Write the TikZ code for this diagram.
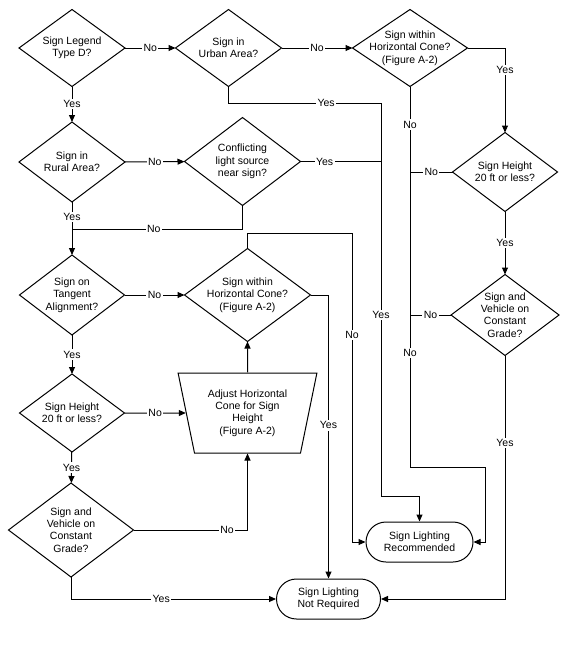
\documentclass[tikz,border=0pt]{standalone}
\usepackage{fontspec}
\setmainfont{Liberation Sans}
\usetikzlibrary{calc,positioning,arrows.meta,shapes}

\begin{document}
\begin{tikzpicture}[x=1pt,y=-1pt,line width=1pt,
    >={Triangle[length=7pt,width=6pt]},
    font=\fontsize{10.5}{12.3}\selectfont,
    question/.style 2 args={rectangle,inner sep=0pt,align=center,minimum width=#1,minimum height=#2},
    finish/.style={draw,rectangle,rounded corners=20pt,align=center,minimum width=#1,minimum height=40pt},
    lbl/.style={fill=white,inner sep=1.5pt}]
  \useasboundingbox (0,0) rectangle (570,645);
  % questions
  \node[question={105pt}{76pt}] (legend) at (72,48) {Sign Legend\\Type D?};
  \node[question={105pt}{76pt}] (urban) at (228.5,48) {Sign in\\Urban Area?};
  \node[question={114pt}{76pt}] (conea) at (410,48) {Sign within\\Horizontal Cone?\\(Figure A-2)};
  \node[question={105pt}{79pt}] (rural) at (72,162) {Sign in\\Rural Area?};
  \node[question={115pt}{87pt}] (conflict) at (242.5,161.5) {Conflicting\\light source\\near sign?};
  \node[question={104pt}{78pt}] (heightr) at (505,172) {Sign Height\\20 ft or less?};
  \node[question={104pt}{79pt}] (tangent) at (72,295) {Sign on\\Tangent\\Alignment?};
  \node[question={125pt}{92pt}] (coneb) at (247.5,295) {Sign within\\Horizontal Cone?\\(Figure A-2)};
  \node[question={107pt}{80pt}] (graderi) at (505,315) {Sign and\\Vehicle on\\Constant\\Grade?};
  \node[question={104pt}{77pt}] (heightl) at (72,413) {Sign Height\\20 ft or less?};
  \node[question={124pt}{93pt}] (gradele) at (71,530) {Sign and\\Vehicle on\\Constant\\Grade?};
  \foreach \n in {legend,urban,conea,rural,conflict,heightr,tangent,coneb,graderi,heightl,gradele}
    \draw (\n.north) -- (\n.east) -- (\n.south) -- (\n.west) -- cycle;
  % adjust box and ends
  \node[draw,trapezium,trapezium stretches=true,shape border rotate=180,
        trapezium left angle=76,trapezium right angle=76,
        minimum width=139pt,minimum height=80pt,align=center] (adjust) at (247.5,413)
        {Adjust Horizontal\\Cone for Sign\\Height\\(Figure A-2)};
  \node[finish=107pt] (recom) at (419.5,542) {Sign Lighting\\Recommended};
  \node[finish=104pt] (noreq) at (328.5,599) {Sign Lighting\\Not Required};
  % bends
  \coordinate (ybus) at (381,103);
  \coordinate (ylow) at (381,496);
  \coordinate (nlow) at (410,467);
  \coordinate (nright) at (485,467);
  \coordinate (merge) at (72,229);
  \coordinate (nback) at (352,233);
  % connectors
  \draw[->] (legend) -- node[lbl]{No} (urban);
  \draw[->] (urban) -- node[lbl]{No} (conea);
  \draw[->] (legend) -- node[lbl]{Yes} (rural);
  \draw[->] (rural) -- node[lbl]{No} (conflict);
  \draw[->] (conea.east) -| node[lbl,pos=0.63]{Yes} (heightr.north);
  \draw[->] (heightr) -- node[lbl]{Yes} (graderi);
  \draw[->] (graderi.south) |- node[lbl,pos=0.18]{Yes} (noreq.east);
  \draw[->] (conea.south) -- node[lbl,pos=0.1]{No} node[lbl,pos=0.7]{No} (nlow) -- (nright) |- (recom.east);
  \draw (heightr.west) -- node[lbl]{No} (heightr.west -| nlow);
  \draw (graderi.west) -- node[lbl]{No} (graderi.west -| nlow);
  \draw[->] (urban.south) |- node[lbl,pos=0.82]{Yes} (ybus) -- node[lbl,pos=0.54]{Yes} (ylow) -| (recom.north);
  \draw (conflict.east) -- node[lbl,pos=0.3]{Yes} (conflict.east -| ybus);
  \draw (conflict.south) |- node[lbl,pos=0.76]{No} (merge);
  \draw[->] (rural) -- node[lbl,pos=0.28]{Yes} (tangent);
  \draw[->] (tangent) -- node[lbl]{No} (coneb);
  \draw[->] (tangent) -- node[lbl]{Yes} (heightl);
  \draw[->] (heightl) -- node[lbl]{No} (adjust);
  \draw[->] (heightl) -- node[lbl]{Yes} (gradele);
  \draw[->] (gradele.east) -| node[lbl,pos=0.41]{No} (adjust.south);
  \draw[->] (adjust) -- (coneb);
  \draw[->] (coneb.north) |- (nback) -- node[lbl,pos=0.33]{No} (nback |- recom.west) -- (recom.west);
  \draw[->] (coneb.east) -| node[lbl,pos=0.73]{Yes} (noreq.north);
  \draw[->] (gradele.south) |- node[lbl,pos=0.72]{Yes} (noreq.west);
\end{tikzpicture}
\end{document}
